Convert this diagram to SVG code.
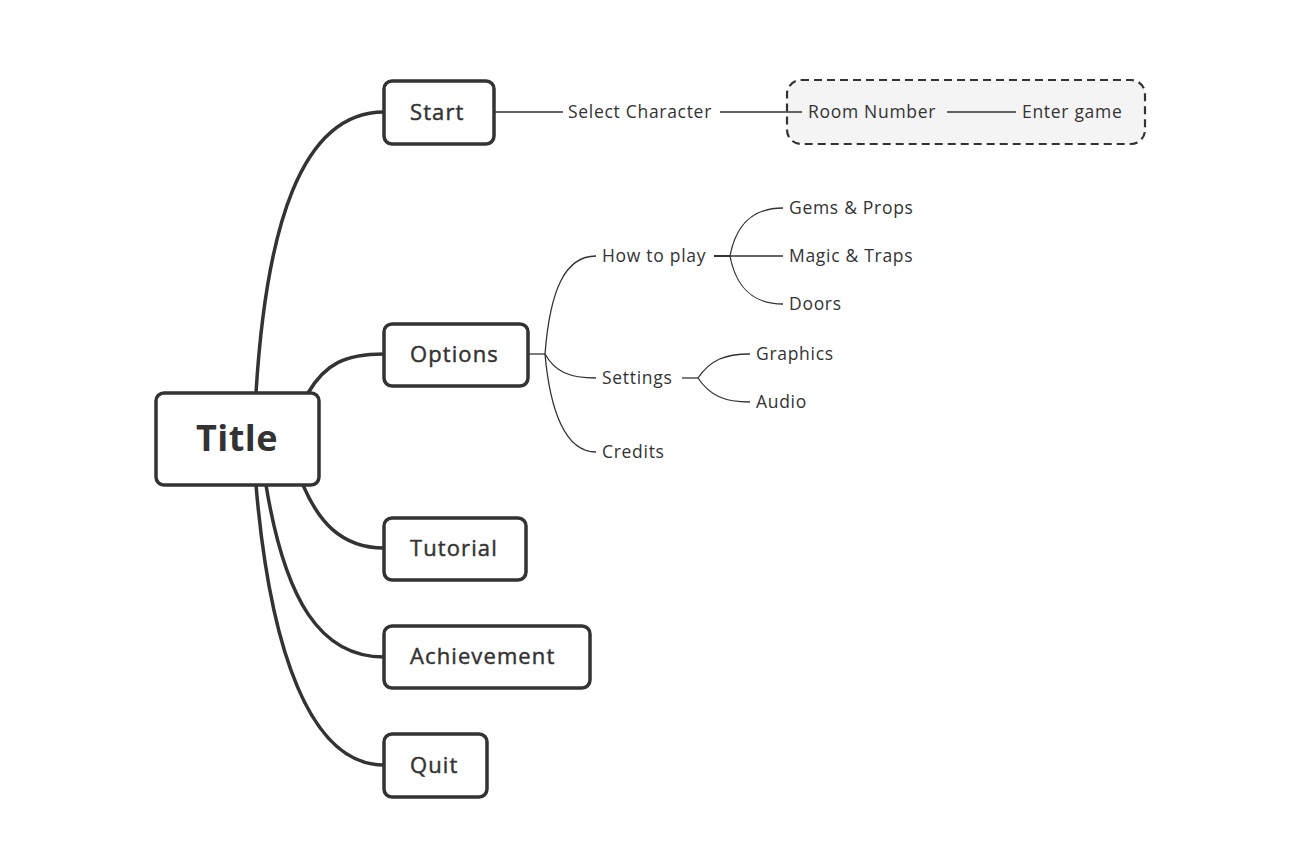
<svg xmlns="http://www.w3.org/2000/svg" width="1298" height="848" viewBox="0 0 1298 848">
<style>
.box{fill:#fff;stroke:#333;stroke-width:3.5}
.main{stroke:#333;stroke-width:3.5;fill:none}
.thin{stroke:#333;stroke-width:1.3;fill:none}
.t1{font-family:"Open Sans","Noto Sans",sans-serif;font-size:22px;fill:#333;stroke:#333;stroke-width:0.45px;letter-spacing:1.1px}
.t0{font-family:"Open Sans","Noto Sans",sans-serif;font-size:36px;fill:#333;font-weight:700;letter-spacing:0.5px}
.t2{font-family:"Open Sans","Noto Sans",sans-serif;font-size:17.5px;fill:#333;letter-spacing:0.7px}
</style>
<rect width="1298" height="848" fill="#fff"/>
<g id="group-room">
<rect x="787" y="80" width="358" height="64" rx="14" fill="#f4f4f4" stroke="#333" stroke-width="2.2" stroke-dasharray="8,5"/>
</g>
<g id="connectors">
<path class="main" d="M256 393 C266 230 300 112 384 112"/>
<path class="main" d="M308 393 C325 364 345 354 384 354"/>
<path class="main" d="M303 485 C318 520 340 548 384 548"/>
<path class="main" d="M266 485 C285 600 320 657 384 657"/>
<path class="main" d="M256 485 C270 650 310 765 384 765"/>
<path class="thin" d="M494 112 H563"/>
<path class="thin" d="M720 112 H802"/>
<path class="thin" d="M947 112 H1016"/>
<path class="thin" d="M528 354 H545"/>
<path class="thin" d="M545 354 C550 290 565 256 596 256"/>
<path class="thin" d="M545 354 C555 372 570 378 596 378"/>
<path class="thin" d="M545 354 C550 410 565 452 596 452"/>
<path class="main" style="stroke-width:2" d="M714 256 H730"/>
<path class="thin" d="M730 256 H783"/>
<path class="thin" d="M730 256 C736 225 752 208 783 208"/>
<path class="thin" d="M730 256 C736 287 752 304 783 304"/>
<path class="thin" d="M682 378 H698"/>
<path class="thin" d="M698 378 C710 360 725 354 750 354"/>
<path class="thin" d="M698 378 C710 396 725 402 750 402"/>
</g>
<g id="node-title"><rect class="box" x="156" y="393" width="163" height="92" rx="8"/><text class="t0" x="237" y="451" text-anchor="middle">Title</text></g>
<g id="node-start"><rect class="box" x="384" y="81" width="110" height="63" rx="8"/><text class="t1" x="410" y="120">Start</text></g>
<g id="node-options"><rect class="box" x="384" y="324" width="144" height="62" rx="8"/><text class="t1" x="410" y="362">Options</text></g>
<g id="node-tutorial"><rect class="box" x="384" y="518" width="142" height="62" rx="8"/><text class="t1" x="410" y="556">Tutorial</text></g>
<g id="node-achievement"><rect class="box" x="384" y="626" width="206" height="62" rx="8"/><text class="t1" x="410" y="664">Achievement</text></g>
<g id="node-quit"><rect class="box" x="384" y="734" width="103" height="63" rx="8"/><text class="t1" x="410" y="773">Quit</text></g>
<g id="node-select"><text class="t2" x="568" y="118">Select Character</text></g>
<g id="node-room"><text class="t2" x="808" y="118">Room Number</text></g>
<g id="node-enter"><text class="t2" x="1022" y="118">Enter game</text></g>
<g id="node-howto"><text class="t2" x="602" y="262">How to play</text></g>
<g id="node-gems"><text class="t2" x="789" y="214">Gems &amp; Props</text></g>
<g id="node-magic"><text class="t2" x="789" y="262">Magic &amp; Traps</text></g>
<g id="node-doors"><text class="t2" x="789" y="310">Doors</text></g>
<g id="node-settings"><text class="t2" x="602" y="384">Settings</text></g>
<g id="node-graphics"><text class="t2" x="756" y="360">Graphics</text></g>
<g id="node-audio"><text class="t2" x="756" y="408">Audio</text></g>
<g id="node-credits"><text class="t2" x="602" y="458">Credits</text></g>
</svg>
